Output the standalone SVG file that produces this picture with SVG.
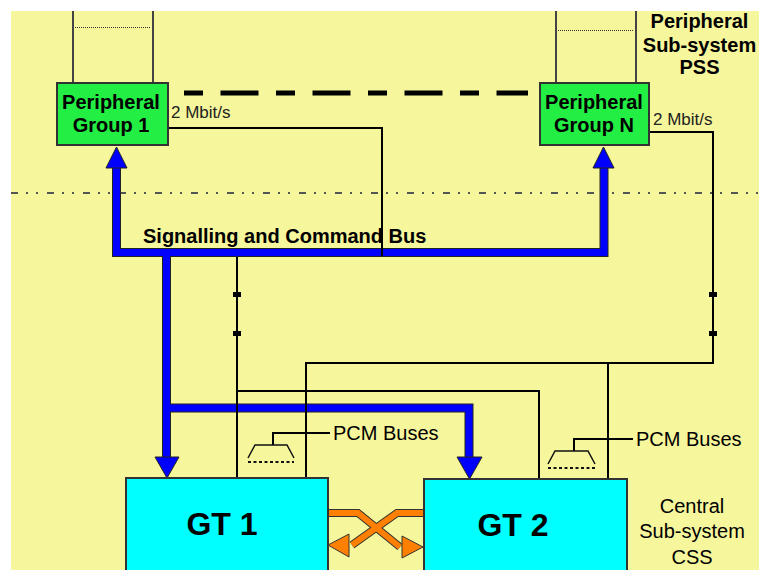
<svg xmlns="http://www.w3.org/2000/svg" width="759" height="570" viewBox="0 0 759 570">
<style>
  .b{font-family:"Liberation Sans",Arial,sans-serif;font-weight:bold;font-size:20px;fill:#000}
  .r{font-family:"Liberation Sans",Arial,sans-serif;font-size:20px;fill:#000}
  .s{font-family:"Liberation Sans",Arial,sans-serif;font-size:17px;fill:#222}
  .gt{font-family:"Liberation Sans",Arial,sans-serif;font-weight:bold;font-size:32px;fill:#000}
  .w{fill:none;stroke:#000;stroke-width:2}
  .g{fill:none;stroke:#444;stroke-width:2}
  .dot{fill:none;stroke:#333;stroke-width:1;stroke-dasharray:1 1}
  .box{stroke:#333;stroke-width:2}
  .bo{fill:none;stroke:#222;stroke-width:9}
  .bi{fill:none;stroke:#0000FF;stroke-width:7}
  .bh{fill:#0000FF;stroke:#222;stroke-width:1}
  .oo{fill:none;stroke:#333;stroke-width:8}
  .oi{fill:none;stroke:#FF8000;stroke-width:6}
  .oh{fill:#FF8000;stroke:#333;stroke-width:1}
  .sq{fill:#000}
</style>
<rect x="0" y="0" width="759" height="570" fill="#fff"/>
<rect x="11" y="11" width="748" height="559" fill="#F6F69C"/>

<!-- separators -->
<line x1="11" y1="193" x2="759" y2="193" stroke="#555" stroke-width="2" stroke-dasharray="7 8 2 8 2 9"/>

<g id="connectors">
  <!-- peripheral links above groups -->
  <line class="g" x1="73" y1="11" x2="73" y2="83"/>
  <line class="g" x1="153" y1="11" x2="153" y2="83"/>
  <line class="dot" x1="75" y1="27.5" x2="151" y2="27.5"/>
  <line class="g" x1="556" y1="11" x2="556" y2="83"/>
  <line class="g" x1="636" y1="11" x2="636" y2="83"/>
  <line class="dot" x1="558" y1="30.5" x2="634" y2="30.5"/>
  <!-- dashed link between groups -->
  <line x1="184" y1="93" x2="528" y2="93" stroke="#000" stroke-width="5" stroke-dasharray="19 17.5 38 17.5"/>

  <!-- blue signalling bus -->
  <g id="bus">
    <path class="bo" d="M116.5,168 V252.5 H604 V168"/>
    <path class="bo" d="M166.5,252.5 V457"/>
    <path class="bo" d="M166.5,408 H469 V457"/>
    <path class="bi" d="M116.5,168 V252.5 H604 V168"/>
    <path class="bi" d="M166.5,252.5 V457"/>
    <path class="bi" d="M166.5,408 H469 V457"/>
    <polygon class="bh" points="116.5,147 106,168 127,168"/>
    <polygon class="bh" points="603.5,147 593,168 614,168"/>
    <polygon class="bh" points="167,478 155,457 179,457"/>
    <polygon class="bh" points="469.5,479 457,457 482,457"/>
  </g>

  <!-- 2 Mbit/s links -->
  <path class="w" d="M168,128 H382 V256"/>
  <path class="w" d="M237,257 V478"/>
  <path class="w" d="M237,391 H539 V479"/>
  <path class="w" d="M649,132 H713 V363 H306 V478"/>
  <path class="w" d="M608,363 V479"/>
  <rect class="sq" x="233" y="292" width="8" height="5"/>
  <rect class="sq" x="233" y="331" width="8" height="5"/>
  <rect class="sq" x="709" y="292" width="8" height="5"/>
  <rect class="sq" x="709" y="331" width="8" height="5"/>

  <!-- PCM bus symbols -->
  <path class="w" d="M330,433 H273 V445"/>
  <path fill="none" stroke="#111" stroke-width="1.5" d="M248,458 L255,445 H287 L294,458"/>
  <line x1="248" y1="462" x2="294" y2="462" stroke="#111" stroke-width="2" stroke-dasharray="3 2.5"/>
  <path class="w" d="M633,439 H574 V451"/>
  <path fill="none" stroke="#111" stroke-width="1.5" d="M548,464 L555,451 H588 L595,464"/>
  <line x1="548" y1="468" x2="595" y2="468" stroke="#111" stroke-width="2" stroke-dasharray="3 2.5"/>

  <!-- orange crossing links -->
  <g id="cross">
    <path class="oo" d="M327,513 H358 L400,547"/>
    <path class="oo" d="M425,513 H397 L352,545"/>
    <path class="oi" d="M327,513 H358 L400,547"/>
    <path class="oi" d="M425,513 H397 L352,545"/>
    <polygon class="oh" points="423,547 402,536 402,558"/>
    <polygon class="oh" points="328,545 349,534 349,557"/>
  </g>
</g>

<g id="pg1">
  <rect class="box" x="57" y="83" width="111" height="62" fill="#22EE44"/>
  <text class="b" x="111" y="109" text-anchor="middle">Peripheral</text>
  <text class="b" x="111" y="132" text-anchor="middle">Group 1</text>
  <text class="s" x="171" y="117.5">2 Mbit/s</text>
</g>
<g id="pgn">
  <rect class="box" x="540" y="83" width="109" height="62" fill="#22EE44"/>
  <text class="b" x="594" y="109" text-anchor="middle">Peripheral</text>
  <text class="b" x="594" y="132" text-anchor="middle">Group N</text>
  <text class="s" x="653" y="125">2 Mbit/s</text>
</g>
<g id="pss">
  <text class="b" x="699.5" y="28" text-anchor="middle">Peripheral</text>
  <text class="b" x="699.5" y="52" text-anchor="middle">Sub-system</text>
  <text class="b" x="699.5" y="74" text-anchor="middle">PSS</text>
</g>
<g id="buslabel">
  <text class="b" x="143" y="243">Signalling and Command Bus</text>
</g>
<g id="pcm1">
  <text class="r" x="333" y="440">PCM Buses</text>
</g>
<g id="pcm2">
  <text class="r" x="636" y="446">PCM Buses</text>
</g>
<g id="gt1">
  <rect class="box" x="126" y="478" width="202" height="100" fill="#00FFFF"/>
  <text class="gt" x="222" y="535" text-anchor="middle">GT 1</text>
</g>
<g id="gt2">
  <rect class="box" x="424" y="479" width="203" height="100" fill="#00FFFF"/>
  <text class="gt" x="513" y="536" text-anchor="middle">GT 2</text>
</g>
<g id="css">
  <text class="r" x="692" y="513" text-anchor="middle">Central</text>
  <text class="r" x="692" y="538" text-anchor="middle">Sub-system</text>
  <text class="r" x="692" y="564" text-anchor="middle">CSS</text>
</g>
</svg>
